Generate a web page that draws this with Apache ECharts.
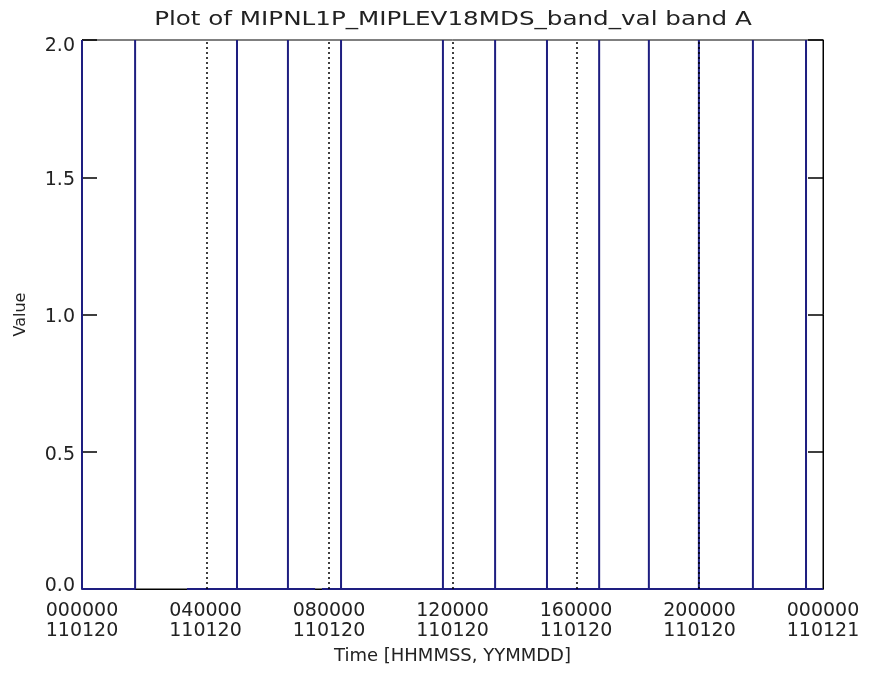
<!DOCTYPE html>
<html>
<head>
<meta charset="utf-8">
<script src="https://cdn.jsdelivr.net/npm/echarts@6/dist/echarts.min.js"></script>
<style>
html,body{margin:0;padding:0;background:#fff;}
#chart{width:873px;height:675px;}
</style>
</head>
<body>
<div id="chart"></div>
<script>
// Hours of day (2011-01-20) where band value jumps to 2
const spikeHours = [0, 1.72, 5.02, 6.67, 8.39, 11.69, 13.38, 15.06, 16.75, 18.36, 19.98, 21.73, 23.45];
const spikeValue = 2;
const baseValue = 0;
// Data gaps [start, end] in hours
const gapHours = [[1.72, 3.40], [7.55, 7.77]];
// Dotted marker lines (hours)
const markerHours = [4.05, 8.00, 12.02, 16.03, 19.98];
// Axis ticks
const xTickHours = [0, 4, 8, 12, 16, 20, 24];
const xTickTime = ['000000', '040000', '080000', '120000', '160000', '200000', '000000'];
const xTickDate = ['110120', '110120', '110120', '110120', '110120', '110120', '110121'];
const yTicks = [0, 0.5, 1.0, 1.5, 2.0];

// Build series data: vertical spikes with gaps
const events = [];
spikeHours.forEach(h => events.push({t: h, k: 0}));
gapHours.forEach(g => { events.push({t: g[0], k: 1}); events.push({t: g[1], k: 2}); });
events.sort((a, b) => a.t - b.t || a.k - b.k);
const lineData = [];
events.forEach(e => {
  if (e.k === 0) {
    lineData.push([e.t, baseValue], [e.t, spikeValue], [e.t, baseValue]);
  } else if (e.k === 1) {
    const last = lineData[lineData.length - 1];
    if (!last || last[0] !== e.t) lineData.push([e.t, baseValue]);
    lineData.push([e.t, null]);
  } else {
    lineData.push([e.t, baseValue]);
  }
});
lineData.push([xTickHours[xTickHours.length - 1], baseValue]);

const FONT = 'DejaVu Sans';
const TXT = '#222';
const BLUE = '#1e1e80';

const chart = echarts.init(document.getElementById('chart'), null, {renderer: 'canvas'});
chart.setOption({
  animation: false,
  backgroundColor: '#fff',
  graphic: [{
    type: 'text',
    x: 453, y: 20,
    scaleX: 1.23,
    style: {
      text: 'Plot of MIPNL1P_MIPLEV18MDS_band_val band A',
      x: 0, y: 0,
      align: 'center', verticalAlign: 'middle',
      font: '20px "DejaVu Sans"',
      fill: TXT
    }
  }],
  grid: {left: 82, right: 50, top: 40, bottom: 86, containLabel: false, outerBoundsMode: 'none',
         show: true, borderColor: '#000', borderWidth: 1, backgroundColor: 'transparent'},
  xAxis: {
    type: 'value', min: 0, max: 24, interval: 4,
    name: 'Time [HHMMSS, YYMMDD]', nameLocation: 'middle', nameGap: 58,
    nameTextStyle: {fontFamily: FONT, fontSize: 18, color: TXT},
    axisLine: {show: true, lineStyle: {color: '#000', width: 1}},
    axisTick: {show: false},
    splitLine: {show: false},
    axisLabel: {
      fontFamily: FONT, fontSize: 19, lineHeight: 20, color: TXT, margin: 12,
      showMinLabel: true, showMaxLabel: true, hideOverlap: false,
      formatter: v => {
        const i = xTickHours.indexOf(v);
        return i < 0 ? '' : xTickTime[i] + '\n' + xTickDate[i];
      }
    }
  },
  yAxis: [{
    type: 'value', min: yTicks[0], max: yTicks[yTicks.length - 1], interval: 0.5,
    position: 'left',
    name: 'Value', nameLocation: 'middle', nameGap: 53, nameRotate: 90,
    nameTextStyle: {fontFamily: FONT, fontSize: 16, color: TXT},
    axisLine: {show: true, lineStyle: {color: '#000', width: 1}},
    axisTick: {show: true, inside: true, length: 15, lineStyle: {color: '#000', width: 1.5}},
    splitLine: {show: false},
    axisLabel: {
      fontFamily: FONT, fontSize: 19, color: TXT, margin: 7,
      showMinLabel: true, showMaxLabel: true,
      formatter: v => {
        const k = v === 2 ? 't' : (v === 0 ? 'b' : 'm');
        return '{' + k + '|' + v.toFixed(1) + '}';
      },
      rich: {
        t: {fontFamily: FONT, fontSize: 19, color: TXT, padding: [12, 0, 0, 0]},
        b: {fontFamily: FONT, fontSize: 19, color: TXT, padding: [0, 0, 6, 0]},
        m: {fontFamily: FONT, fontSize: 19, color: TXT, padding: [6, 0, 0, 0]}
      }
    }
  }, {
    type: 'value', min: yTicks[0], max: yTicks[yTicks.length - 1], interval: 0.5,
    position: 'right',
    axisLine: {show: true, lineStyle: {color: '#000', width: 1}},
    axisTick: {show: true, inside: true, length: 15, lineStyle: {color: '#000', width: 1.5}},
    axisLabel: {show: false},
    splitLine: {show: false}
  }],
  series: [{
    type: 'line',
    data: lineData,
    showSymbol: false,
    symbol: 'none',
    connectNulls: false,
    lineStyle: {color: BLUE, width: 2},
    clip: true,
    markLine: {
      silent: true,
      symbol: 'none',
      label: {show: false},
      lineStyle: {color: '#000', type: [2, 3], width: 1.5},
      data: markerHours.map(h => ({xAxis: h}))
    }
  }]
});
</script>
</body>
</html>
